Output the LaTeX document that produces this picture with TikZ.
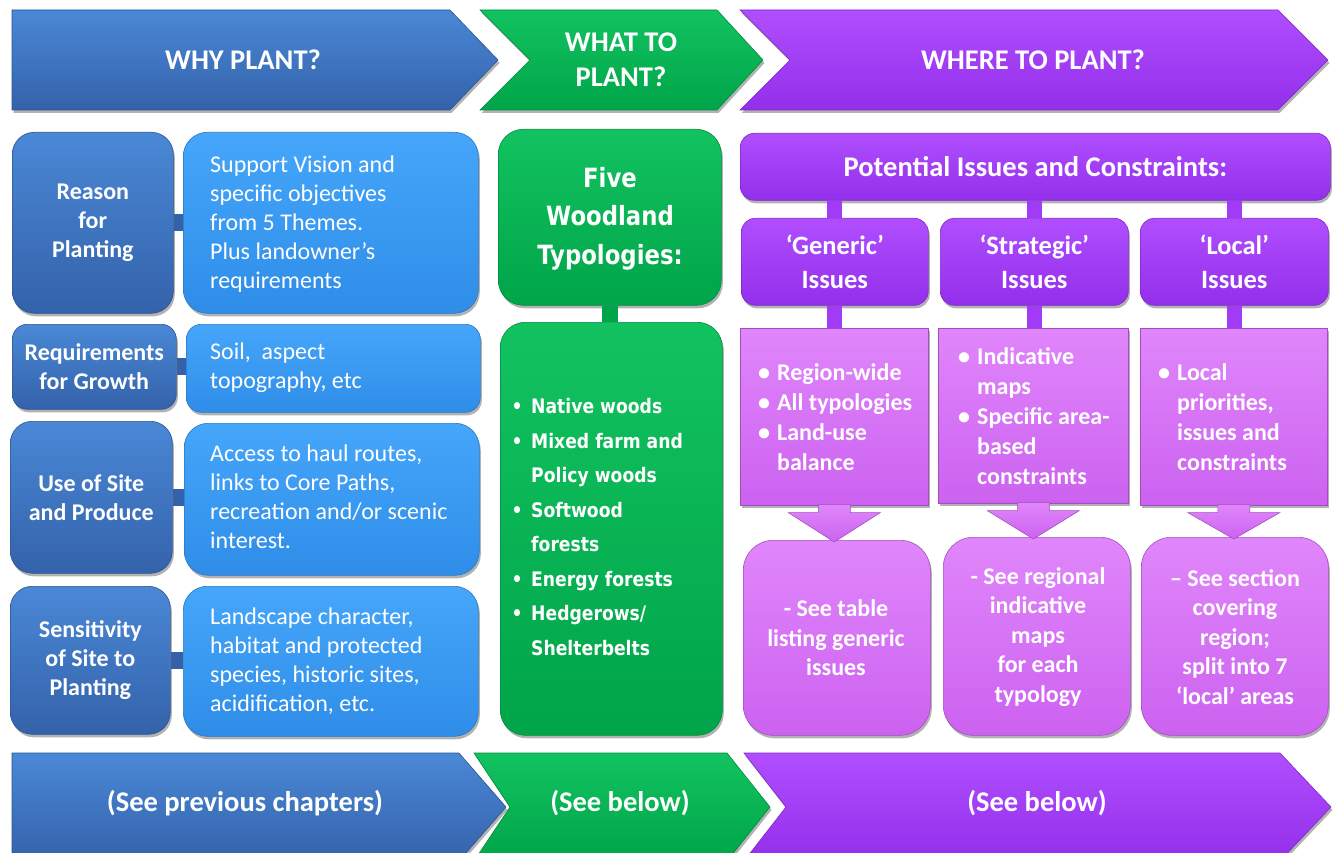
\documentclass[tikz,border=0pt]{standalone}
\usepackage{fontspec}
\setmainfont{Carlito}
\newfontfamily\dvs[FakeStretch=0.86]{DejaVu Sans}
\usetikzlibrary{shadows,calc}

\definecolor{dbluetop}{HTML}{4A88D6}
\definecolor{dbluebot}{HTML}{3462AA}
\definecolor{lbluetop}{HTML}{45A6FA}
\definecolor{lbluebot}{HTML}{2F8DE8}
\definecolor{grntop}{HTML}{12C260}
\definecolor{grnbot}{HTML}{00A549}
\definecolor{purtop}{HTML}{B04EFF}
\definecolor{purbot}{HTML}{932FEA}
\definecolor{purmid}{HTML}{A23BF8}
\definecolor{lpurtop}{HTML}{E086FB}
\definecolor{lpurbot}{HTML}{CC62F0}

\tikzset{
  shad/.style={drop shadow={shadow xshift=1.5pt,shadow yshift=-3pt,opacity=0.3,fill=black}},
  base/.style={shad, inner sep=0pt, anchor=north west, line width=0.6pt},
  dbox/.style={base, top color=dbluetop, bottom color=dbluebot, draw=dbluebot!85!black, rounded corners=22pt},
  lbox/.style={base, top color=lbluetop, bottom color=lbluebot, draw=lbluebot!85!black, rounded corners=24pt},
  gbox/.style={base, top color=grntop, bottom color=grnbot, draw=grnbot!85!black, rounded corners=25pt},
  pbox/.style={base, top color=purtop, bottom color=purbot, draw=purbot!85!black, rounded corners=14pt},
  qbox/.style={base, top color=lpurtop, bottom color=lpurbot, draw=lpurbot!80!black},
  chevb/.style={shad, top color=dbluetop, bottom color=dbluebot, draw=dbluebot!85!black, line width=0.6pt},
  chevg/.style={shad, top color=grntop, bottom color=grnbot, draw=grnbot!85!black, line width=0.6pt},
  chevp/.style={shad, top color=purtop, bottom color=purbot, draw=purbot!85!black, line width=0.6pt},
  chevtxt/.style={text=white, font={\bfseries\fontsize{28.5}{35}\selectfont}, align=center, inner sep=0pt},
  wbold/.style={text=white, font={\bfseries\fontsize{24}{29}\selectfont}, align=center},
  wreg/.style={text=white, font={\fontsize{24}{29}\selectfont}, align=left, inner sep=0pt, anchor=west},
  wlist/.style={text=white, font={\bfseries\fontsize{24}{30}\selectfont}, align=left, inner sep=0pt, anchor=west},
  glist/.style={text=white, font={\dvs\bfseries\fontsize{20}{34.5}\selectfont}, align=left, inner sep=0pt, anchor=west},
  conb/.style={draw=dbluebot, line width=17pt},
  cong/.style={draw=grnbot, line width=16pt},
  conp/.style={draw=purmid, line width=15pt},
  parrow/.style={top color=lpurtop, bottom color=lpurbot, draw=lpurbot!80!black, line width=0.6pt}
}
\newcommand\pbul{\makebox[0pt][c]{\textbullet}\hspace{13pt}}
\newcommand\pind{\hspace*{13pt}}
\newcommand\gbul{\makebox[0pt][c]{\textbullet}\hspace{14pt}}
\newcommand\gind{\hspace*{14pt}}

\begin{document}
\begin{tikzpicture}[x=1pt,y=-1pt]
\useasboundingbox (0,0) rectangle (1333,853);
\fill[white] (0,0) rectangle (1333,853);
\clip (0,0) rectangle (1333,853);

% ---------- top chevrons ----------
\path[chevb] (12,10) -- (450,10) -- (498,60) -- (450,110) -- (12,110) -- cycle;
\path[chevg] (480,10) -- (717,10) -- (763,60) -- (717,110) -- (480,110) -- (530,60) -- cycle;
\path[chevp] (740,10) -- (1278,10) -- (1328,60) -- (1278,110) -- (740,110) -- (790,60) -- cycle;
\node[chevtxt] (why) at (243,60) {WHY PLANT?};
\node[chevtxt] (what) at (621,60) {WHAT TO\\PLANT?};
\node[chevtxt] (where) at (1033,60) {WHERE TO PLANT?};

% ---------- bottom chevrons ----------
\path[chevb] (12,753) -- (459,753) -- (506,807) -- (459,861) -- (12,861) -- cycle;
\path[chevg] (474,753) -- (727,753) -- (770,807) -- (727,861) -- (474,861) -- (510,807) -- cycle;
\path[chevp] (744,753) -- (1280,753) -- (1331,807) -- (1280,861) -- (744,861) -- (786,807) -- cycle;
\node[chevtxt] (prev) at (245,803) {(See previous chapters)};
\node[chevtxt] (below1) at (620,803) {(See below)};
\node[chevtxt] (below2) at (1037,803) {(See below)};

% ---------- left column ----------
\node[dbox, minimum width=161pt, minimum height=181pt] (reason) at (12,132) {};
\node[dbox, rounded corners=15pt, minimum width=164pt, minimum height=85pt] (req) at (12,324) {};
\node[dbox, minimum width=162pt, minimum height=152pt] (use) at (10,421) {};
\node[dbox, minimum width=160pt, minimum height=148pt] (sens) at (10,586) {};
\node[lbox, minimum width=295pt, minimum height=181pt] (support) at (183,132) {};
\node[lbox, rounded corners=15pt, minimum width=294pt, minimum height=88pt] (soil) at (186,324) {};
\node[lbox, minimum width=295pt, minimum height=152pt] (access) at (184,423) {};
\node[lbox, minimum width=295pt, minimum height=150pt] (land) at (183,586) {};

\draw[conb] (reason.east) -- (reason.east -| support.west);
\draw[conb] (req.east) -- (req.east -| soil.west);
\draw[conb] (use.east) -- (use.east -| access.west);
\draw[conb] (sens.east) -- (sens.east -| land.west);

\node[wbold] (reasonT) at (reason.center) {Reason\\for\\Planting};
\node[wbold] (reqT) at (req.center) {Requirements\\for Growth};
\node[wbold] (useT) at (use.center) {Use of Site\\and Produce};
\node[wbold] (sensT) at (sens.center) {Sensitivity\\of Site to\\Planting};

\node[wreg] (supportT) at (210,224) {Support Vision and\\specific objectives\\from 5 Themes.\\Plus landowner’s\\requirements};
\node[wreg] (soilT) at (210,367.5) {Soil,\ \ aspect\\topography, etc};
\node[wreg] (accessT) at (210,497) {Access to haul routes,\\links to Core Paths,\\recreation and/or scenic\\interest.};
\node[wreg] (landT) at (210,661.5) {Landscape character,\\habitat and protected\\species, historic sites,\\acidification, etc.};

% ---------- green column ----------
\node[gbox, minimum width=223pt, minimum height=176pt] (five) at (498,129) {};
\node[gbox, minimum width=222pt, minimum height=413pt] (types) at (500,322) {};
\draw[cong] (five.south) -- (five.south |- types.north);
\node[text=white, font={\dvs\bfseries\fontsize{26.5}{38.5}\selectfont}, align=center, inner sep=0pt] (fiveT) at (610,218.5) {Five\\Woodland\\Typologies:};
\node[glist] (typesT) at (517,527) {\gbul Native woods\\\gbul Mixed farm and\\\gind Policy woods\\\gbul Softwood\\\gind forests\\\gbul Energy forests\\\gbul Hedgerows/\\\gind Shelterbelts};

% ---------- purple column ----------
\node[pbox, minimum width=590pt, minimum height=67pt] (hdr) at (740,133) {};
\node[pbox, minimum width=187pt, minimum height=87pt] (gen) at (741,218) {};
\node[pbox, minimum width=188pt, minimum height=87pt] (strat) at (940,218) {};
\node[pbox, minimum width=188pt, minimum height=87pt] (loc) at (1140,218) {};
\node[qbox, minimum width=188pt, minimum height=177pt] (gb) at (740,328) {};
\node[qbox, minimum width=190pt, minimum height=175pt] (sb) at (938,328) {};
\node[qbox, minimum width=187pt, minimum height=177pt] (lb) at (1140,328) {};
\node[qbox, rounded corners=30pt, minimum width=187pt, minimum height=195pt] (gbot) at (743,540) {};
\node[qbox, rounded corners=30pt, minimum width=187pt, minimum height=198pt] (sbot) at (943,537) {};
\node[qbox, rounded corners=30pt, minimum width=187pt, minimum height=198pt] (lbot) at (1141,537) {};

\draw[conp] (gen.north |- hdr.south) -- (gen.north);
\draw[conp] (strat.north |- hdr.south) -- (strat.north);
\draw[conp] (loc.north |- hdr.south) -- (loc.north);
\draw[conp] (gen.south) -- (gen.south |- gb.north);
\draw[conp] (strat.south) -- (strat.south |- sb.north);
\draw[conp] (loc.south) -- (loc.south |- lb.north);

\foreach \b/\t in {gb/gbot, sb/sbot, lb/lbot}{
  \path[parrow] ($(\b.south)+(-16,-1)$) -- ($(\b.south)+(-16,7)$) -- ($(\b.south)+(-46,7)$)
     -- ($(\b.south |- \t.north)+(0,2)$) -- ($(\b.south)+(46,7)$) -- ($(\b.south)+(16,7)$) -- ($(\b.south)+(16,-1)$) -- cycle;
}

\node[text=white, font={\bfseries\fontsize{28.5}{34}\selectfont}, inner sep=0pt] (hdrT) at (hdr.center) {Potential Issues and Constraints:};
\node[text=white, font={\bfseries\fontsize{26.5}{34}\selectfont}, align=center, inner sep=0pt] (genT) at (gen.center) {‘Generic’\\Issues};
\node[text=white, font={\bfseries\fontsize{26.5}{34}\selectfont}, align=center, inner sep=0pt] (stratT) at (strat.center) {‘Strategic’\\Issues};
\node[text=white, font={\bfseries\fontsize{26.5}{34}\selectfont}, align=center, inner sep=0pt] (locT) at (loc.center) {‘Local’\\Issues};

\node[wlist] (gbT) at (764,417.5) {\pbul Region-wide\\\pbul All typologies\\\pbul Land-use\\\pind balance};
\node[wlist] (sbT) at (964,416.5) {\pbul Indicative\\\pind maps\\\pbul Specific area-\\\pind based\\\pind constraints};
\node[wlist] (lbT) at (1164,417.5) {\pbul Local\\\pind priorities,\\\pind issues and\\\pind constraints};

\node[wbold, font={\bfseries\fontsize{24}{29.5}\selectfont}, inner sep=0pt] (gbotT) at (836,638) {- See table\\listing generic\\issues};
\node[wbold, font={\bfseries\fontsize{24}{29.5}\selectfont}, inner sep=0pt] (sbotT) at (1038,637) {- See regional\\indicative\\maps\\for each\\typology};
\node[wbold, font={\bfseries\fontsize{24}{29.5}\selectfont}, inner sep=0pt] (lbotT) at (1235,637) {– See section\\covering\\region;\\split into 7\\‘local’ areas};
\end{tikzpicture}
\end{document}
